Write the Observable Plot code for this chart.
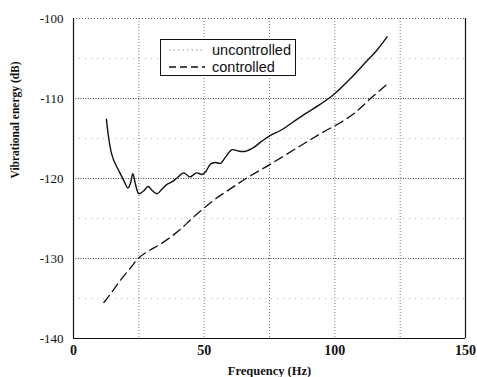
<!DOCTYPE html>
<html>
<head>
<meta charset="utf-8">
<script src="https://cdn.jsdelivr.net/npm/d3@7"></script>
<script src="https://cdn.jsdelivr.net/npm/@observablehq/plot@0.6"></script>
<style>
  body { margin: 0; background: white; }
  #wrap { position: relative; width: 477px; height: 377px; }
  #wrap > svg text { font-family: "Liberation Serif", "Times New Roman", serif !important; }
  #legend { position: absolute; left: 160px; top: 39px; width: 134px; height: 35px;
            border: 1px solid #111; background: white; font-family: "Liberation Sans", Arial, sans-serif;
            font-size: 14.5px; color: #111; }
  #legend .row { position: absolute; left: 0; height: 18px; display: flex; align-items: center; }
  #legend svg { margin-left: 8px; margin-right: 7px; }
</style>
</head>
<body>
<div id="wrap"></div>
<script>
// Uncontrolled (solid) curve
const freqUncontrolled = [12.6, 13.5, 14.5, 15.5, 17.3, 19.3, 20.8, 21.8, 22.7, 23.7, 25.0, 26.7, 28.6, 30.1, 32.0, 33.9, 35.9, 37.8, 39.7, 42.2, 44.5, 47.1, 49.2, 50.5, 52.4, 54.3, 56.3, 58.2, 60.7, 63.3, 65.8, 69.0, 72.2, 75.4, 79.2, 86.9, 94.5, 99.6, 106.0, 112.4, 116.0, 120.0];
const dbUncontrolled   = [-112.6, -115.0, -116.8, -117.8, -119.0, -120.3, -121.2, -120.6, -119.4, -120.7, -121.9, -121.6, -121.0, -121.5, -121.9, -121.3, -120.7, -120.4, -119.9, -119.3, -119.8, -119.3, -119.5, -119.2, -118.2, -118.0, -118.1, -117.3, -116.4, -116.6, -116.6, -116.1, -115.3, -114.6, -114.0, -112.3, -110.7, -109.5, -107.5, -105.25, -104.0, -102.3];
// Controlled (dashed) curve
const freqControlled = [11.6, 14.0, 18.0, 22.0, 25.0, 29.0, 33.3, 40.0, 46.0, 53.7, 60.0, 66.0, 75.4, 86.9, 95.0, 102.2, 108.0, 113.0, 120.0];
const dbControlled   = [-135.5, -134.5, -132.7, -131.1, -129.9, -129.0, -128.2, -126.6, -124.8, -122.7, -121.3, -120.0, -118.2, -115.9, -114.3, -113.0, -111.7, -110.2, -108.2];

const xTicks = [0, 50, 100, 150];
const yTicks = [-140, -130, -120, -110, -100];
const xGrid = [25, 50, 75, 100, 125];
const yGridMajor = [-130, -120, -110];
const yGridMinor = [-135, -125, -115, -105];
const xLabel = "Frequency (Hz)";
const yLabel = "Vibrational energy (dB)";
const legendLabels = ["uncontrolled", "controlled"];

const uncontrolled = freqUncontrolled.map((f, i) => ({f, db: dbUncontrolled[i]}));
const controlled = freqControlled.map((f, i) => ({f, db: dbControlled[i]}));

const serif = "Liberation Serif";

const chart = Plot.plot({
  width: 477, height: 377,
  marginLeft: 73, marginRight: 12, marginTop: 18, marginBottom: 39,
  x: {domain: [0, 150]},
  y: {domain: [-140, -100]},
  style: {fontFamily: serif, fontSize: "12px", background: "white", color: "#111"},
  marks: [
    Plot.ruleY(yGridMinor, {stroke: "#888", strokeDasharray: "1,5", strokeOpacity: 0.6}),
    Plot.ruleX(xGrid, {stroke: "#444", strokeDasharray: "1,2", strokeOpacity: 0.75}),
    Plot.ruleY(yGridMajor, {stroke: "#222", strokeDasharray: "1,1.5", strokeOpacity: 0.85}),
    Plot.ruleY([-100], {stroke: "#444", strokeDasharray: "1,2", strokeOpacity: 0.8}),
    Plot.ruleX([0, 150], {stroke: "#111", strokeWidth: 1.2}),
    Plot.ruleY([-140], {stroke: "#111", strokeWidth: 1.2}),
    Plot.line(controlled, {x: "f", y: "db", stroke: "#111", strokeWidth: 1.3, strokeDasharray: "9,5", curve: "catmull-rom"}),
    Plot.line(uncontrolled, {x: "f", y: "db", stroke: "#111", strokeWidth: 1.4, curve: "catmull-rom"}),
    Plot.axisX({ticks: xTicks, tickSize: 0, tickPadding: 7, label: null, fontFamily: serif, fontWeight: "bold", fontSize: 14, tickFormat: d => String(d)}),
    Plot.axisY({ticks: yTicks, tickSize: 0, tickPadding: 10, label: null, fontFamily: serif, fontSize: 13, tickFormat: d => String(d)}),
    Plot.text([xLabel], {frameAnchor: "bottom", lineAnchor: "middle", dy: 32, text: d => d, fontFamily: serif, fontWeight: "bold", fontSize: 12.5}),
    Plot.text([yLabel], {frameAnchor: "left", lineAnchor: "middle", dx: -58, rotate: -90, text: d => d, fontFamily: serif, fontWeight: "bold", fontSize: 11.5})
  ]
});
const wrap = document.getElementById("wrap");
wrap.appendChild(chart);

const legend = document.createElement("div");
legend.id = "legend";
const styles = [{dash: "1.5,3", color: "#999", width: 1}, {dash: "7,4", color: "#111", width: 1.3}];
legendLabels.forEach((lab, i) => {
  const row = document.createElement("div");
  row.className = "row";
  row.style.top = (1 + i * 17) + "px";
  row.innerHTML = `<svg width="36" height="10"><line x1="0" x2="36" y1="5" y2="5" stroke="${styles[i].color}" stroke-width="${styles[i].width}" stroke-dasharray="${styles[i].dash}"/></svg><span>${lab}</span>`;
  legend.appendChild(row);
});
wrap.appendChild(legend);
</script>
</body>
</html>
